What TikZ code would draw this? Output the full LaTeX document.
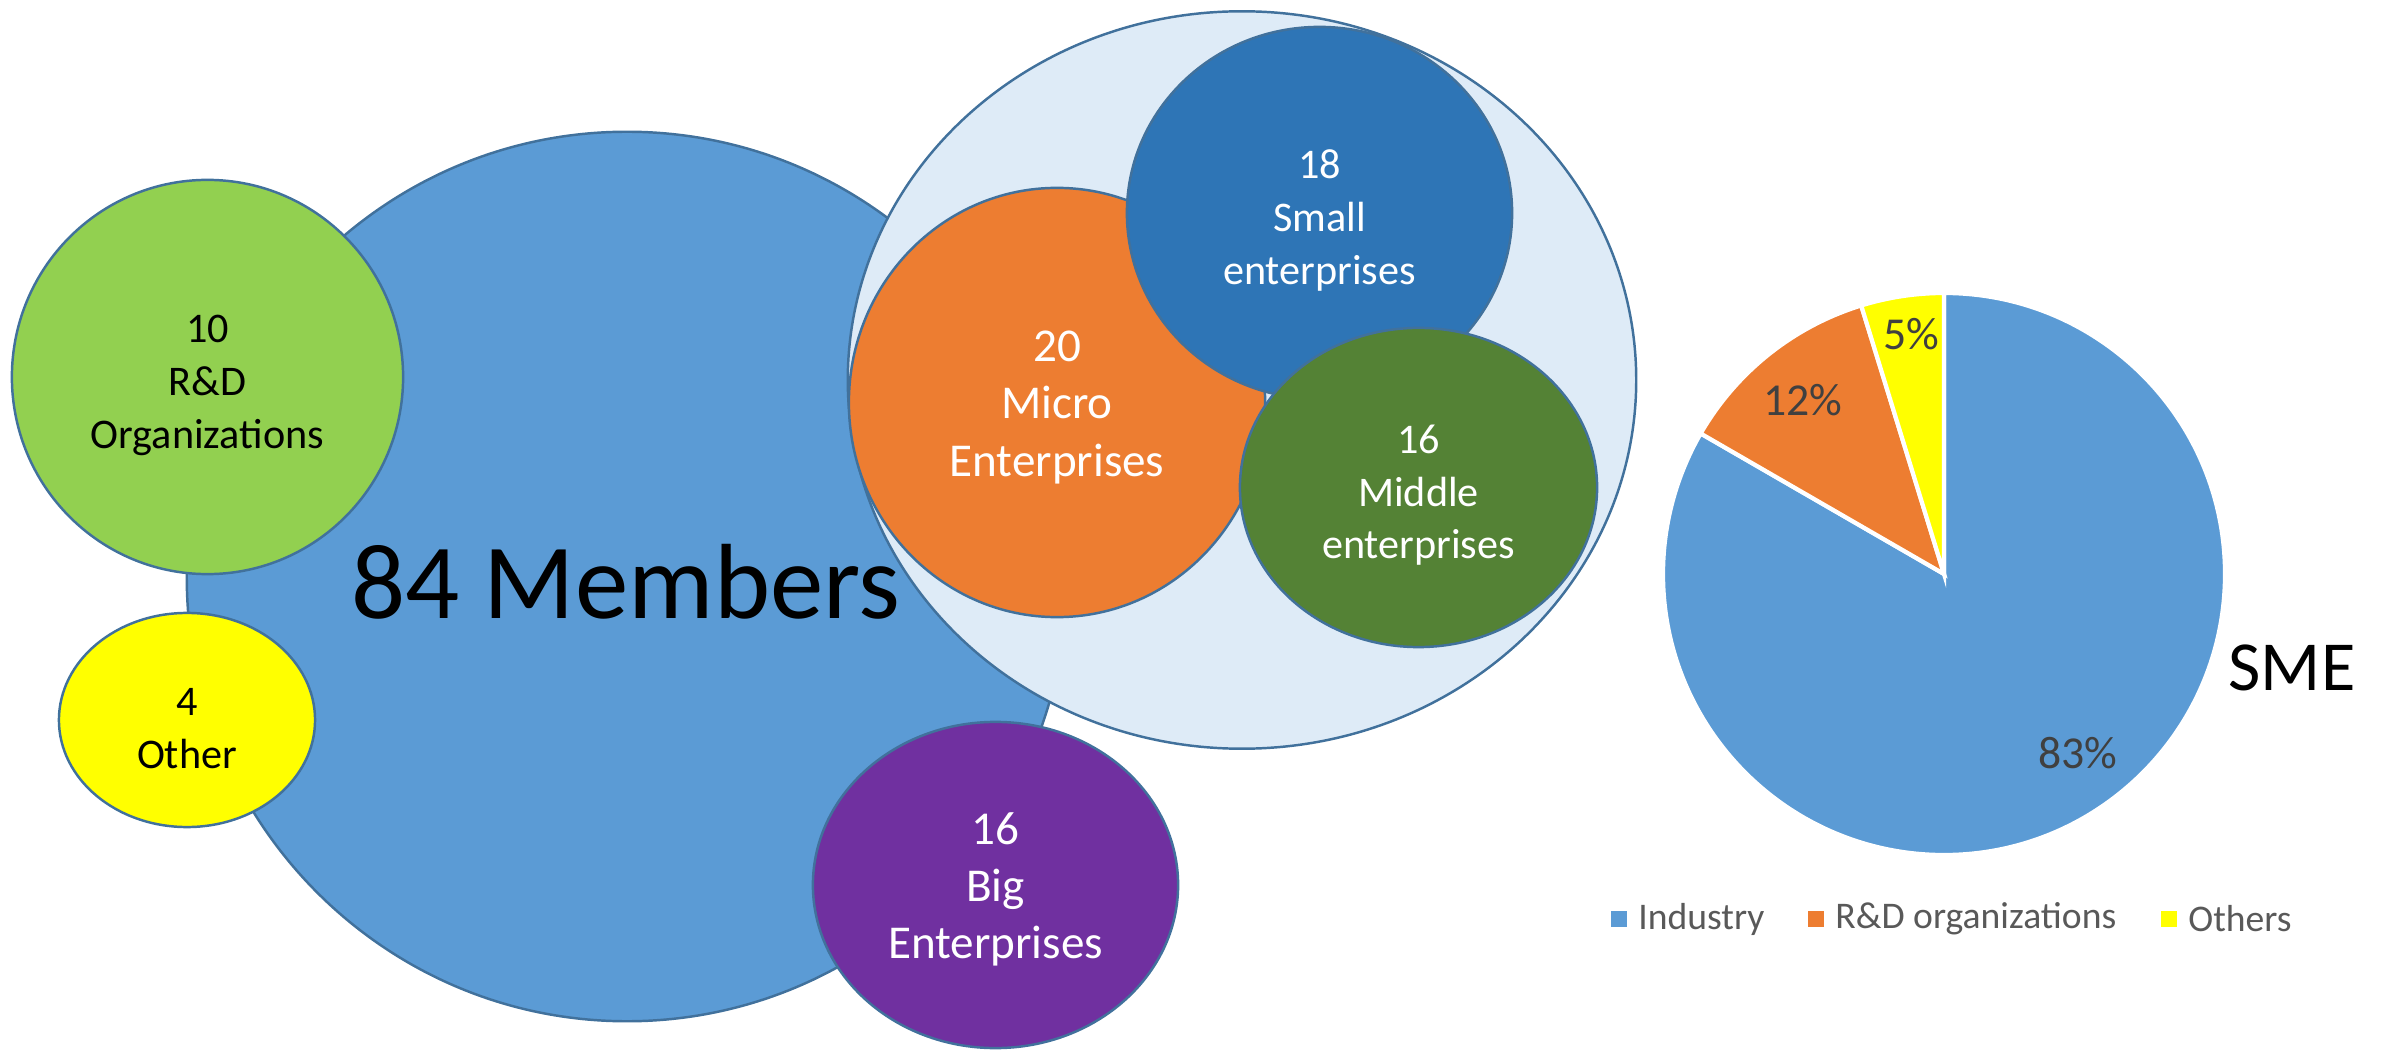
\documentclass[tikz,border=0pt]{standalone}
\usepackage{fontspec}
\setmainfont{Carlito}
\usetikzlibrary{shapes.geometric,positioning}
\definecolor{rim}{HTML}{41719C}
\definecolor{members}{HTML}{5B9BD5}
\definecolor{rnd}{HTML}{92D050}
\definecolor{other}{HTML}{FFFF00}
\definecolor{bigent}{HTML}{7030A0}
\definecolor{smegroup}{HTML}{DEEBF7}
\definecolor{micro}{HTML}{ED7D31}
\definecolor{smallent}{HTML}{2E75B6}
\definecolor{middle}{HTML}{548235}
\definecolor{pielabel}{HTML}{404040}
\definecolor{legendtext}{HTML}{595959}
% first line a bit taller, so the text sits lower in its bubble
\newcommand{\liftA}{\rule{0pt}{12.5pt}}
\newcommand{\liftB}{\rule{0pt}{11.5pt}}
\begin{document}
\begin{tikzpicture}[x=0.01cm,y=0.01cm,
  bubble/.style={ellipse,draw=rim,line width=0.7pt,inner sep=0pt,align=center},
  caption12/.style={font=\fontsize{12}{15}\selectfont},
  caption13/.style={font=\fontsize{13.4}{16.3}\selectfont},
  pct/.style={text=pielabel,font=\fontsize{13}{15}\selectfont},
  key/.style={minimum size=0.16cm,inner sep=0pt},
  keytext/.style={text=legendtext,font=\fontsize{10.7}{13}\selectfont,inner sep=0pt,anchor=west}]
\useasboundingbox (0,0) rectangle (2382,1054);
%
\draw (627,477.5) node[bubble,fill=members,minimum width=8.8cm,minimum height=8.89cm] (members) {};
\draw (207.5,677) node[bubble,caption12,fill=rnd,minimum width=3.91cm,minimum height=3.94cm] (rnd) {\liftA10\\R\&D\\Organizations};
\draw (187,334) node[bubble,caption12,fill=other,minimum width=2.56cm,minimum height=2.14cm] (other) {\liftA4\\Other};
\draw (626,472) node[font=\fontsize{30.4}{36}\selectfont] (title) {84 Members};
%
\draw (1242,674) node[bubble,fill=smegroup,minimum width=7.88cm,minimum height=7.37cm] (sme) {};
\draw (1057,651.5) node[bubble,caption13,text=white,fill=micro,minimum width=4.16cm,minimum height=4.29cm] (micro) {\liftB20\\Micro\\Enterprises};
\draw (1319.5,841) node[bubble,caption12,text=white,fill=smallent,minimum width=3.85cm,minimum height=3.72cm] (small) {\liftA18\\Small\\enterprises};
\draw (1418.5,566.5) node[bubble,caption12,text=white,fill=middle,minimum width=3.57cm,minimum height=3.19cm] (middle) {\liftA16\\Middle\\enterprises};
%
\draw (995.5,169) node[bubble,caption13,text=white,fill=bigent,minimum width=3.65cm,minimum height=3.26cm] (big) {\liftB16\\Big\\Enterprises};
%
\coordinate (pc) at (1944,480);
\filldraw[fill=members,draw=white,line width=1.2pt] (pc) -- ++(90:281) arc (90:-210:281) -- cycle;
\filldraw[fill=micro,draw=white,line width=1.2pt] (pc) -- ++(150:281) arc (150:107.14:281) -- cycle;
\filldraw[fill=other,draw=white,line width=1.2pt] (pc) -- ++(107.14:281) arc (107.14:90:281) -- cycle;
\draw (1911,720) node[pct] (p5) {5\%};
\draw (1803,654) node[pct] (p12) {12\%};
\draw (2078,301) node[pct] (p83) {83\%};
\draw (2292,386) node[font=\fontsize{20}{24}\selectfont] (smelabel) {SME};
%
\draw (1619,135) node[key,fill=members] (k1) {};
\node[keytext,right=0.1cm of k1] (t1) {Industry};
\draw (1816,135) node[key,fill=micro] (k2) {};
\node[keytext,right=0.1cm of k2] (t2) {R\&D organizations};
\draw (2169,135) node[key,fill=other] (k3) {};
\node[keytext,right=0.1cm of k3] (t3) {Others};
%
\end{tikzpicture}
\end{document}
